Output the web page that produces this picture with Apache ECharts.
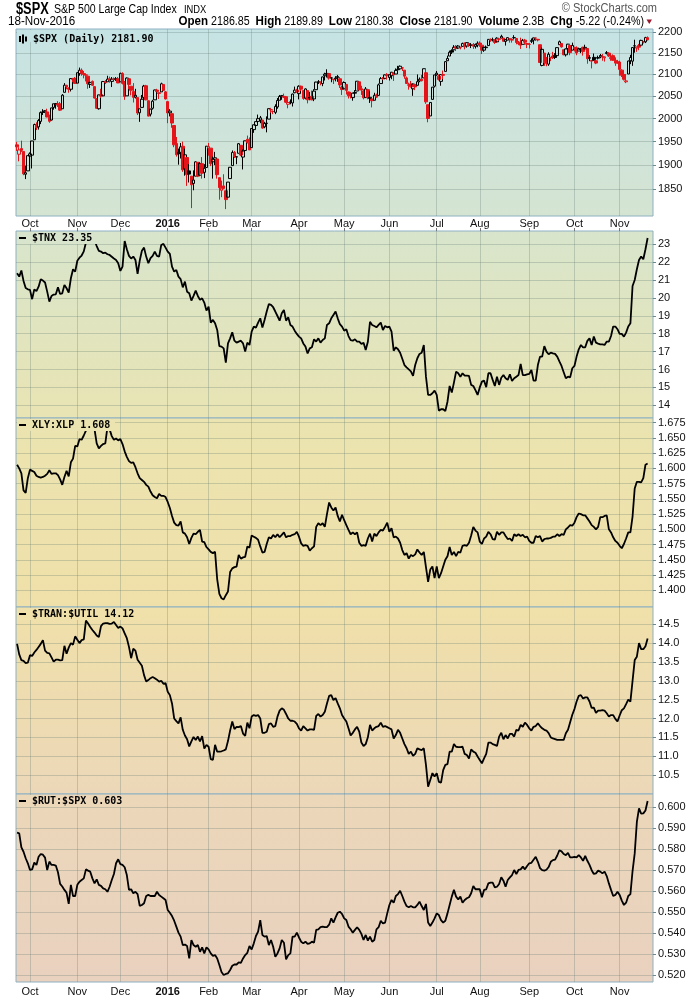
<!DOCTYPE html>
<html><head><meta charset="utf-8">
<script src="https://cdn.jsdelivr.net/npm/echarts@6/dist/echarts.min.js"></script>
<style>html,body{margin:0;padding:0;background:#fff;}#chart{width:700px;height:1000px;}</style>
</head><body><div id="chart"></div>
<script>
// ---- trading days (month -> days) ----
const monthDays = [
['2015-09',[23,24,25,28,29,30]],
['2015-10',[1,2,5,6,7,8,9,12,13,14,15,16,19,20,21,22,23,26,27,28,29,30]],
['2015-11',[2,3,4,5,6,9,10,11,12,13,16,17,18,19,20,23,24,25,27,30]],
['2015-12',[1,2,3,4,7,8,9,10,11,14,15,16,17,18,21,22,23,24,28,29,30,31]],
['2016-01',[4,5,6,7,8,11,12,13,14,15,19,20,21,22,25,26,27,28,29]],
['2016-02',[1,2,3,4,5,8,9,10,11,12,16,17,18,19,22,23,24,25,26,29]],
['2016-03',[1,2,3,4,7,8,9,10,11,14,15,16,17,18,21,22,23,24,28,29,30,31]],
['2016-04',[1,4,5,6,7,8,11,12,13,14,15,18,19,20,21,22,25,26,27,28,29]],
['2016-05',[2,3,4,5,6,9,10,11,12,13,16,17,18,19,20,23,24,25,26,27,31]],
['2016-06',[1,2,3,6,7,8,9,10,13,14,15,16,17,20,21,22,23,24,27,28,29,30]],
['2016-07',[1,5,6,7,8,11,12,13,14,15,18,19,20,21,22,25,26,27,28,29]],
['2016-08',[1,2,3,4,5,8,9,10,11,12,15,16,17,18,19,22,23,24,25,26,29,30,31]],
['2016-09',[1,2,6,7,8,9,12,13,14,15,16,19,20,21,22,23,26,27,28,29,30]],
['2016-10',[3,4,5,6,7,10,11,12,13,14,17,18,19,20,21,24,25,26,27,28,31]],
['2016-11',[1,2,3,4,7,8,9,10,11,14,15,16,17,18]]
];
const monthLabels = ['Oct','Nov','Dec','2016','Feb','Mar','Apr','May','Jun','Jul','Aug','Sep','Oct','Nov'];

// ---- $SPX daily OHLC ----
const spxOpen = [
1943,1923,1935,1929,1881,1888,
1919,1921,1954,1986,1982,1994,2014,2015,2015,2003,1997,2025,2031,2033,2033,2022,2059,2075,2069,2066,2089,2091,
2080,2102,2110,2102,2098,2096,2077,2084,2072,2045,2022,2054,2051,2084,2083,2090,2084,2089,2089,2090,
2083,2102,2082,2051,2090,2073,2061,2048,2047,2013,2025,2047,2074,2040,2010,2023,2042,2064,2058,2060,2077,2060,
2038,2013,2011,1985,1946,1927,1927,1940,1892,1916,1888,1877,1862,1877,1906,1879,1903,1885,1895,
1936,1936,1907,1912,1913,1874,1848,1857,1847,1834,1872,1899,1927,1917,1925,1942,1917,1931,1955,1947,
1937,1976,1985,1994,1997,1997,1982,1990,1999,2020,2016,2014,2026,2041,2049,2048,2049,2032,2037,2035,2058,2064,
2056,2073,2063,2046,2063,2046,2050,2044,2065,2083,2083,2079,2097,2101,2102,2092,2089,2090,2093,2090,2071,
2067,2077,2060,2052,2047,2057,2062,2083,2067,2062,2047,2065,2045,2044,2041,2053,2052,2079,2091,2091,2100,
2093,2097,2104,2101,2111,2113,2115,2110,2092,2076,2078,2067,2077,2075,2085,2089,2092,2104,2031,2006,2043,2073,
2099,2096,2084,2100,2107,2132,2143,2156,2158,2165,2162,2164,2166,2174,2167,2173,2169,2170,2166,2169,
2174,2169,2157,2163,2168,2183,2182,2182,2177,2183,2186,2186,2178,2181,2184,2181,2187,2185,2174,2176,2171,2181,2173,
2171,2178,2181,2186,2183,2170,2121,2150,2128,2124,2140,2143,2145,2144,2170,2173,2158,2146,2161,2168,2157,
2164,2163,2155,2158,2164,2160,2161,2138,2131,2140,2132,2138,2141,2142,2139,2149,2150,2137,2144,2133,2130,
2129,2110,2100,2083,2101,2132,2131,2167,2162,2168,2169,2177,2177,2187];
const spxHigh = [
1949,1938,1952,1929,1899,1920,
1927,1951,1989,1992,1999,2016,2021,2019,2022,2009,2024,2033,2034,2039,2037,2055,2080,2076,2070,2090,2092,2094,
2105,2116,2114,2108,2101,2096,2083,2086,2072,2045,2053,2067,2085,2087,2097,2095,2094,2093,2094,2094,
2104,2105,2085,2093,2090,2073,2080,2067,2047,2022,2053,2076,2076,2040,2022,2042,2065,2067,2058,2081,2077,2062,
2038,2021,2011,1985,1960,1935,1947,1950,1935,1916,1902,1877,1889,1908,1906,1906,1917,1902,1940,
1947,1936,1918,1928,1913,1874,1868,1881,1847,1865,1895,1931,1930,1918,1947,1942,1933,1952,1963,1959,
1978,1986,1993,2009,2006,1997,1993,2005,2022,2024,2018,2032,2046,2053,2053,2056,2049,2036,2043,2056,2072,2067,
2075,2074,2063,2068,2063,2060,2063,2066,2083,2087,2083,2095,2104,2112,2103,2094,2089,2096,2099,2094,2074,
2084,2077,2060,2060,2058,2064,2084,2083,2074,2066,2071,2067,2061,2044,2058,2056,2079,2094,2094,2100,2103,
2100,2105,2104,2114,2120,2121,2117,2110,2095,2081,2085,2079,2077,2100,2093,2099,2113,2113,2031,2036,2071,2099,
2108,2100,2100,2109,2131,2144,2156,2159,2169,2169,2169,2164,2175,2175,2176,2174,2174,2174,2173,2178,
2178,2170,2164,2168,2183,2185,2187,2183,2188,2186,2194,2186,2183,2188,2185,2185,2193,2186,2179,2187,2184,2184,2174,
2174,2185,2186,2187,2184,2170,2163,2150,2141,2152,2140,2153,2150,2164,2180,2173,2158,2161,2172,2172,2175,
2164,2166,2163,2162,2165,2170,2162,2145,2131,2149,2135,2144,2148,2148,2142,2155,2152,2145,2147,2140,2134,
2132,2112,2102,2100,2132,2146,2164,2182,2165,2172,2182,2179,2189,2190];
const spxLow = [
1930,1908,1928,1879,1871,1888,
1900,1893,1954,1975,1976,1988,2008,2013,2003,1991,1996,2020,2022,2026,2017,2022,2059,2066,2058,2061,2082,2079,
2080,2097,2097,2091,2084,2067,2069,2074,2045,2022,2020,2046,2051,2078,2083,2081,2071,2086,2085,2080,
2083,2077,2042,2051,2066,2052,2036,2045,2008,1993,2025,2042,2041,2005,2005,2020,2042,2059,2044,2060,2062,2043,
1990,2005,1980,1938,1918,1901,1914,1886,1878,1857,1864,1812,1848,1877,1875,1879,1872,1873,1895,
1920,1898,1872,1900,1872,1829,1834,1850,1810,1834,1872,1899,1915,1902,1925,1919,1891,1926,1946,1932,
1937,1969,1978,1987,1990,1978,1979,1970,1999,2013,2010,2010,2022,2041,2042,2046,2035,2023,2032,2027,2057,2058,
2043,2062,2042,2043,2034,2041,2041,2039,2065,2078,2075,2073,2086,2093,2088,2082,2078,2084,2083,2069,2053,
2067,2054,2045,2045,2040,2051,2062,2064,2053,2043,2047,2043,2035,2025,2041,2047,2052,2079,2087,2089,2088,
2086,2089,2085,2101,2110,2112,2108,2090,2079,2065,2070,2051,2064,2075,2082,2084,2092,2033,1992,2006,2043,2070,
2097,2086,2074,2089,2107,2132,2143,2148,2158,2155,2160,2159,2166,2159,2163,2165,2162,2160,2161,2164,
2165,2148,2153,2160,2168,2177,2178,2172,2177,2179,2186,2178,2168,2181,2175,2175,2184,2171,2169,2160,2171,2171,2162,
2161,2174,2171,2179,2178,2128,2119,2120,2119,2120,2131,2136,2136,2140,2170,2163,2145,2142,2152,2145,2157,
2154,2145,2155,2150,2144,2160,2125,2131,2114,2132,2124,2135,2138,2132,2130,2147,2141,2132,2132,2120,2125,
2097,2094,2086,2080,2101,2124,2120,2151,2153,2157,2169,2173,2174,2180];
const spxClose = [
1938.8,1932.2,1931.3,1881.8,1884.1,1920.0,
1923.8,1951.4,1987.1,1979.9,1995.8,2013.4,2014.9,2017.5,2003.7,1994.2,2023.9,2033.1,2033.7,2030.8,2018.9,2052.5,2075.2,2071.2,2065.9,2090.4,2089.4,2079.4,
2104.1,2109.8,2102.3,2099.9,2099.2,2078.6,2081.7,2075.0,2046.0,2023.0,2053.2,2050.4,2083.6,2081.2,2089.2,2086.6,2089.1,2088.9,2090.1,2080.4,
2102.6,2079.5,2049.6,2091.7,2077.1,2063.6,2047.6,2052.2,2012.4,2021.9,2043.4,2073.1,2041.9,2005.6,2021.2,2039.0,2064.3,2061.0,2056.5,2078.4,2063.4,2043.9,
2012.7,2016.7,1990.3,1943.1,1922.0,1923.7,1938.7,1890.3,1921.8,1880.3,1881.3,1859.3,1869.0,1906.9,1877.1,1903.6,1883.0,1893.4,1940.2,
1939.4,1903.0,1912.5,1915.5,1880.1,1853.4,1852.2,1851.9,1829.1,1864.8,1895.6,1926.8,1917.8,1917.8,1945.5,1921.3,1929.8,1951.7,1948.1,1932.2,
1978.4,1986.5,1993.4,2000.0,2001.8,1979.3,1989.3,1989.6,2022.2,2019.6,2015.9,2027.2,2040.6,2049.6,2051.6,2049.8,2036.7,2035.9,2037.1,2055.0,2064.0,2059.7,
2072.8,2066.1,2045.2,2066.7,2041.9,2047.6,2042.0,2061.7,2082.4,2082.8,2080.7,2094.3,2100.8,2102.4,2091.5,2091.6,2087.8,2091.7,2095.2,2075.8,2065.3,
2081.4,2063.4,2051.1,2050.6,2057.1,2058.7,2084.4,2064.5,2064.1,2046.6,2066.7,2047.2,2047.6,2040.0,2052.3,2048.0,2076.1,2090.5,2090.1,2099.1,2097.0,
2099.3,2105.3,2099.1,2109.4,2112.1,2119.1,2115.5,2096.1,2079.1,2075.3,2071.5,2078.0,2071.2,2083.3,2088.9,2085.5,2113.3,2037.4,2000.5,2036.1,2070.8,2098.9,
2103.0,2088.6,2099.7,2097.9,2129.9,2137.2,2152.1,2152.4,2163.8,2161.7,2166.9,2163.8,2173.0,2165.2,2175.0,2168.5,2169.2,2166.6,2170.1,2173.6,
2170.8,2157.0,2163.8,2164.3,2182.9,2180.9,2181.7,2175.5,2185.8,2184.1,2190.2,2178.2,2182.2,2187.0,2183.9,2182.6,2186.9,2175.4,2172.5,2169.0,2180.4,2176.1,2171.0,
2170.9,2180.0,2186.5,2186.2,2181.3,2127.8,2159.0,2127.0,2125.8,2147.3,2139.2,2139.1,2139.8,2163.1,2177.2,2164.7,2146.1,2159.9,2171.4,2151.1,2168.3,
2161.2,2150.5,2159.7,2160.8,2153.7,2163.7,2136.7,2139.2,2132.6,2133.0,2126.5,2139.6,2144.3,2141.3,2141.2,2151.3,2143.2,2139.4,2133.0,2126.4,2126.2,
2111.7,2097.9,2088.7,2085.2,2131.5,2139.6,2163.3,2167.5,2164.5,2164.2,2180.4,2176.9,2187.1,2181.9];

// ---- lower panels ----
const tnx = [
21.38,21.19,21.53,20.95,20.55,20.48,20.45,19.93,20.48,20.38,
20.63,21.04,20.97,20.86,20.35,19.79,20.11,20.19,20.2,20.59,
20.22,20.26,20.73,20.54,20.3,21.1,21.6,21.47,22.08,22.25,
22.37,22.6,23.1,23.35,23.3,23.4,23.2,22.9,22.63,22.59,
22.5,22.53,22.44,22.4,22.3,22.2,22.12,21.94,21.51,21.75,
23.18,22.72,22.35,22.2,22.31,22.12,21.34,22.09,22.64,22.81,
22.31,21.94,22.22,22.35,22.59,22.35,22.31,22.96,23.02,22.81,
22.59,22.46,21.75,21.47,21.56,21.19,21.05,20.59,20.91,20.35,
20.26,19.85,20.11,20.41,20.11,19.89,19.98,19.74,19.29,19.51,
18.62,18.77,18.58,18.21,17.31,17.28,17.18,16.38,17.46,17.74,
18.08,17.61,17.5,17.56,17.61,17.46,17.0,17.5,17.37,18.12,
18.4,18.34,18.62,18.86,18.34,18.77,19.24,19.66,19.61,19.48,
19.24,18.99,18.73,19.14,19.33,18.73,18.92,18.49,18.4,18.17,
17.99,17.84,17.74,17.46,17.28,16.9,17.18,17.24,17.69,17.56,
17.74,17.5,17.65,17.74,18.49,18.58,18.86,19.05,19.24,18.86,
18.53,18.4,18.17,18.25,17.87,17.64,17.61,17.69,17.56,17.56,
17.43,17.5,17.09,17.55,18.67,18.49,18.43,18.36,18.49,18.62,
18.21,18.43,18.36,18.4,18.12,17.05,17.24,17.13,16.94,16.6,
16.25,16.12,16.01,15.9,15.64,16.25,16.63,16.87,16.94,17.37,
15.6,14.58,14.58,14.67,14.82,14.58,13.7,13.78,13.78,13.68,
14.2,15.08,14.71,15.27,15.88,15.79,15.6,15.79,15.66,15.66,
15.64,15.14,15.08,14.85,14.58,15.0,15.32,15.38,15.01,15.79,
15.79,15.42,15.08,15.6,15.14,15.54,15.69,15.51,15.42,15.73,
15.36,15.51,15.6,15.69,16.31,15.69,15.69,15.73,15.75,15.97,
15.38,15.38,16.25,16.72,16.72,17.31,17.0,16.85,16.94,16.9,
16.87,16.72,16.45,16.2,15.85,15.51,15.6,15.56,16.07,16.2,
16.72,17.13,17.37,17.24,17.24,17.6,17.74,17.37,17.84,17.5,
17.45,17.41,17.4,17.37,17.56,17.56,17.87,18.4,18.4,18.25,
17.99,17.99,17.84,18.06,18.4,18.58,20.67,21.0,21.6,22.12,
22.31,22.16,22.72,23.35];
const xlyXlp = [
1.606,1.600,1.592,1.564,1.560,1.584,1.598,1.596,1.594,1.588,
1.586,1.585,1.586,1.588,1.591,1.597,1.591,1.592,1.592,1.589,
1.582,1.573,1.586,1.596,1.587,1.610,1.616,1.637,1.636,1.648,
1.647,1.654,1.662,1.668,1.670,1.666,1.664,1.641,1.633,1.637,
1.640,1.641,1.668,1.664,1.653,1.647,1.649,1.646,1.648,1.640,
1.628,1.619,1.612,1.609,1.610,1.602,1.592,1.584,1.581,1.578,
1.573,1.570,1.562,1.556,1.553,1.551,1.558,1.555,1.555,1.553,
1.545,1.535,1.522,1.511,1.507,1.506,1.513,1.495,1.493,1.487,
1.476,1.486,1.493,1.492,1.496,1.499,1.480,1.479,1.471,1.467,
1.463,1.461,1.463,1.418,1.394,1.387,1.385,1.392,1.398,1.430,
1.436,1.438,1.439,1.458,1.452,1.454,1.455,1.472,1.470,1.490,
1.488,1.486,1.483,1.472,1.462,1.463,1.476,1.487,1.485,1.491,
1.487,1.492,1.487,1.491,1.495,1.487,1.489,1.489,1.491,1.492,
1.496,1.488,1.477,1.473,1.474,1.473,1.465,1.469,1.472,1.504,
1.510,1.507,1.510,1.504,1.525,1.544,1.536,1.531,1.536,1.522,
1.513,1.524,1.515,1.507,1.499,1.492,1.495,1.492,1.495,1.478,
1.473,1.474,1.473,1.485,1.493,1.480,1.493,1.489,1.495,1.499,
1.498,1.504,1.511,1.496,1.502,1.487,1.488,1.485,1.478,1.466,
1.458,1.461,1.452,1.458,1.456,1.459,1.467,1.462,1.458,1.463,
1.438,1.414,1.434,1.439,1.420,1.439,1.420,1.428,1.439,1.450,
1.456,1.471,1.458,1.463,1.456,1.463,1.462,1.473,1.474,1.473,
1.478,1.490,1.504,1.498,1.495,1.480,1.476,1.485,1.488,1.496,
1.492,1.484,1.483,1.496,1.491,1.495,1.495,1.489,1.484,1.485,
1.481,1.492,1.489,1.492,1.489,1.491,1.487,1.488,1.481,1.478,
1.478,1.489,1.487,1.489,1.480,1.484,1.485,1.485,1.486,1.488,
1.488,1.492,1.489,1.492,1.491,1.500,1.503,1.507,1.506,1.511,
1.520,1.526,1.525,1.523,1.523,1.518,1.513,1.507,1.504,1.500,
1.504,1.520,1.520,1.522,1.523,1.500,1.495,1.487,1.481,1.478,
1.473,1.469,1.476,1.485,1.495,1.495,1.521,1.567,1.578,1.578,
1.577,1.584,1.606,1.608];
const tranUtil = [
13.98,13.70,13.55,13.53,13.47,13.48,13.68,13.66,13.75,13.82,
13.90,13.98,14.08,13.80,13.74,13.73,13.62,13.51,13.56,13.56,
13.54,13.55,13.93,13.72,13.88,14.00,13.96,14.18,14.09,14.00,
14.08,14.10,14.60,14.52,14.43,14.35,14.28,14.20,14.16,14.45,
14.52,14.53,14.53,14.51,14.52,14.56,14.48,14.40,14.44,14.39,
14.26,14.13,13.90,13.60,13.85,13.80,13.56,13.48,13.40,13.15,
12.98,13.02,13.07,13.10,13.07,13.03,12.98,13.00,12.92,12.94,
12.71,12.62,12.40,12.00,11.93,11.87,12.03,11.70,11.55,11.45,
11.26,11.39,11.51,11.43,11.52,11.39,11.53,11.20,11.30,11.25,
10.92,10.90,11.30,11.12,11.12,11.13,11.15,11.18,11.40,11.68,
11.92,11.72,11.78,11.77,11.80,11.60,11.54,11.89,11.74,12.05,
12.09,12.07,12.09,12.00,11.62,11.62,11.65,11.85,11.87,11.78,
11.80,12.05,12.21,12.27,12.23,12.12,12.00,11.94,11.94,11.92,
11.86,11.74,11.68,11.80,11.74,11.68,11.71,11.71,11.70,12.07,
12.12,12.05,12.09,12.18,12.40,12.60,12.62,12.49,12.54,12.40,
12.27,12.09,12.00,11.92,11.74,11.55,11.62,11.71,11.78,11.65,
11.36,11.27,11.32,11.50,11.83,11.68,11.74,11.78,11.80,11.89,
11.78,11.80,11.77,11.74,11.71,11.47,11.56,11.70,11.62,11.47,
11.32,11.21,11.06,11.12,11.01,11.06,11.21,11.18,11.16,11.21,
10.77,10.19,10.37,10.55,10.46,10.55,10.32,10.30,10.63,10.77,
10.79,11.12,11.12,11.32,11.25,11.24,11.24,11.25,11.06,11.03,
10.94,11.18,11.12,11.09,10.99,10.90,10.81,10.94,11.06,11.36,
11.36,11.32,11.30,11.27,11.52,11.62,11.45,11.56,11.47,11.59,
11.59,11.52,11.70,11.68,11.83,11.78,11.89,11.83,11.74,11.68,
11.78,11.80,11.87,11.80,11.74,11.70,11.68,11.61,11.50,11.47,
11.45,11.43,11.43,11.43,11.43,11.61,11.70,11.90,12.10,12.25,
12.45,12.60,12.62,12.53,12.56,12.56,12.45,12.28,12.29,12.15,
12.21,12.21,12.22,12.21,12.14,12.05,12.09,12.09,11.99,11.92,
12.08,12.22,12.27,12.38,12.50,12.45,13.00,13.55,13.64,14.00,
13.84,13.84,13.92,14.12];
const rutSpx = [
0.5879,0.5876,0.5809,0.5788,0.5757,0.5733,0.5701,0.5704,0.5736,0.5725,
0.5764,0.5777,0.5774,0.5760,0.5701,0.5741,0.5725,0.5725,0.5722,0.5690,
0.5635,0.5622,0.5606,0.5592,0.5539,0.5630,0.5577,0.5577,0.5630,0.5645,
0.5653,0.5661,0.5704,0.5698,0.5693,0.5661,0.5637,0.5656,0.5630,0.5625,
0.5613,0.5609,0.5597,0.5621,0.5653,0.5682,0.5733,0.5752,0.5729,0.5725,
0.5714,0.5677,0.5606,0.5609,0.5590,0.5597,0.5586,0.5530,0.5534,0.5542,
0.5577,0.5582,0.5577,0.5577,0.5577,0.5597,0.5582,0.5574,0.5566,0.5558,
0.5510,0.5497,0.5481,0.5459,0.5431,0.5402,0.5383,0.5343,0.5345,0.5338,
0.5279,0.5367,0.5343,0.5335,0.5343,0.5311,0.5332,0.5303,0.5332,0.5322,
0.5303,0.5291,0.5295,0.5279,0.5248,0.5214,0.5200,0.5205,0.5208,0.5224,
0.5244,0.5250,0.5250,0.5260,0.5258,0.5279,0.5295,0.5306,0.5338,0.5322,
0.5351,0.5386,0.5407,0.5462,0.5391,0.5383,0.5386,0.5343,0.5367,0.5335,
0.5287,0.5303,0.5327,0.5367,0.5354,0.5275,0.5295,0.5303,0.5383,0.5383,
0.5402,0.5379,0.5359,0.5351,0.5359,0.5348,0.5351,0.5359,0.5354,0.5415,
0.5418,0.5428,0.5431,0.5428,0.5428,0.5440,0.5470,0.5450,0.5475,0.5497,
0.5502,0.5491,0.5470,0.5462,0.5431,0.5418,0.5402,0.5415,0.5428,0.5415,
0.5396,0.5367,0.5391,0.5364,0.5383,0.5359,0.5367,0.5418,0.5428,0.5459,
0.5446,0.5450,0.5494,0.5534,0.5558,0.5545,0.5577,0.5586,0.5602,0.5577,
0.5550,0.5529,0.5523,0.5529,0.5523,0.5523,0.5534,0.5550,0.5529,0.5510,
0.5539,0.5450,0.5434,0.5450,0.5470,0.5494,0.5486,0.5462,0.5450,0.5459,
0.5494,0.5534,0.5574,0.5606,0.5574,0.5561,0.5574,0.5545,0.5558,0.5566,
0.5571,0.5590,0.5625,0.5609,0.5609,0.5609,0.5571,0.5606,0.5609,0.5637,
0.5641,0.5641,0.5618,0.5621,0.5634,0.5666,0.5650,0.5621,0.5653,0.5666,
0.5677,0.5701,0.5682,0.5701,0.5704,0.5717,0.5704,0.5720,0.5733,0.5735,
0.5750,0.5764,0.5740,0.5710,0.5700,0.5698,0.5702,0.5715,0.5740,0.5748,
0.5750,0.5770,0.5795,0.5790,0.5777,0.5772,0.5783,0.5761,0.5761,0.5764,
0.5761,0.5772,0.5761,0.5745,0.5768,0.5745,0.5725,0.5700,0.5682,0.5685,
0.5698,0.5693,0.5685,0.5693,0.5672,0.5637,0.5606,0.5577,0.5582,0.5597,
0.5582,0.5555,0.5534,0.5545,0.5577,0.5586,0.5696,0.5780,0.5930,0.5995,
0.5970,0.5971,0.5985,0.6030];

// ---- tick labels ----
const spxTicks = [1850,1900,1950,2000,2050,2100,2150,2200];
const tnxTicks = [14,15,16,17,18,19,20,21,22,23];
const xlyTicks = [1.400,1.425,1.450,1.475,1.500,1.525,1.550,1.575,1.600,1.625,1.650,1.675];
const tranTicks = [10.5,11.0,11.5,12.0,12.5,13.0,13.5,14.0,14.5];
const rutTicks = [0.520,0.530,0.540,0.550,0.560,0.570,0.580,0.590,0.600];

// ---- build categories ----
const categories = [];
const monthStart = {};
monthDays.forEach(function (m, mi) {
  m[1].forEach(function (d, di) {
    if (di === 0 && mi > 0) monthStart[categories.length] = monthLabels[mi - 1];
    categories.push(m[0] + '-' + (d < 10 ? '0' + d : '' + d));
  });
});
categories.push('', '');

const FONT_AX = "'Liberation Sans', Arial, sans-serif";
const FONT_LEG = "'DejaVu Sans Mono', monospace";
const FONT_HDR = "'Liberation Sans', Arial, sans-serif";
const GRIDLINE = 'rgba(95,120,110,0.28)';
const BORDER = '#8db0c2';
const RED = '#e4141b';

const panels = [
  {top: 29, height: 187, c0: '#c6e3e4', c1: '#d5e4d2', legW: 136},
  {top: 231, height: 187, c0: '#d8e5cc', c1: '#e9e4b3', legW: 80},
  {top: 418, height: 189, c0: '#ebe4b0', c1: '#f0e0a9', legW: 98},
  {top: 607, height: 187, c0: '#f0e0a9', c1: '#ecd8b8', legW: 124},
  {top: 794, height: 188, c0: '#ecd7b9', c1: '#e9d1bf', legW: 112}
];

const isMonth = function (i) { return monthStart[i] !== undefined; };

const grids = panels.map(function (p) {
  return {left: 16, width: 637, top: p.top, height: p.height, show: true,
    borderColor: BORDER, borderWidth: 1,
    backgroundColor: new echarts.graphic.LinearGradient(0, 0, 0, 1, [{offset: 0, color: p.c0}, {offset: 1, color: p.c1}])};
});

const xAxes = panels.map(function (p, g) {
  return {type: 'category', gridIndex: g, data: categories, boundaryGap: true,
    position: g === 1 ? 'top' : 'bottom',
    axisLine: {show: false},
    axisTick: {show: g === 1, interval: isMonth, alignWithLabel: true, length: 3, lineStyle: {color: '#777'}},
    axisLabel: {show: g === 0 || g === 4, interval: isMonth, margin: g === 0 ? 2 : 4,
      fontFamily: FONT_AX, fontSize: 11, color: '#111',
      formatter: function (v, i) { const s = monthStart[i] || ''; return s === '2016' ? '{b|2016}' : s; },
      rich: {b: {fontWeight: 'bold', fontSize: 11, fontFamily: FONT_AX, color: '#111'}}},
    splitLine: {show: true, interval: isMonth, alignWithLabel: true, lineStyle: {color: GRIDLINE, width: 1}}
  };
});

function yAx(g, type, min, max, ticks, fmt) {
  return {type: type, gridIndex: g, position: 'right', min: min, max: max, logBase: 10,
    axisLine: {show: false},
    axisTick: {show: true, length: 3, customValues: ticks, lineStyle: {color: '#6a8a98'}},
    axisLabel: {customValues: ticks, margin: 5, fontFamily: FONT_AX, fontSize: 11, color: '#111', formatter: fmt},
    splitLine: {show: true, lineStyle: {color: GRIDLINE, width: 1}},
    minorTick: {show: false}, minorSplitLine: {show: false}};
}
const yAxes = [
  yAx(0, 'log', 1796.3, 2208, spxTicks, function (v) { return Math.round(v).toString(); }),
  yAx(1, 'value', 13.29, 23.74, tnxTicks, function (v) { return Math.round(v).toString(); }),
  yAx(2, 'value', 1.3726, 1.6827, xlyTicks, function (v) { return v.toFixed(3); }),
  yAx(3, 'value', 9.996, 14.959, tranTicks, function (v) { return v.toFixed(1); }),
  yAx(4, 'value', 0.51666, 0.60635, rutTicks, function (v) { return v.toFixed(3); })
];

const candleData = spxClose.map(function (c, i) {
  const o = spxOpen[i];
  const prev = i > 0 ? spxClose[i - 1] : o;
  const col = c >= prev ? '#000000' : RED;
  const fill = c > o ? 'rgba(0,0,0,0)' : col;
  return {value: [o, c, spxLow[i], spxHigh[i]],
    itemStyle: {color: fill, color0: fill, borderColor: col, borderColor0: col, borderWidth: 1}};
});

function lineSeries(g, data) {
  return {type: 'line', xAxisIndex: g, yAxisIndex: g, data: data, showSymbol: false, symbol: 'none',
    lineStyle: {color: '#000', width: 1.8}, clip: true, silent: true, z: 3};
}

function legendTitle(p, text, rich) {
  return {left: 19, top: p.top + 1, padding: 0, text: text, textStyle: {rich: rich}, z: 10};
}
const legText = {fontFamily: FONT_LEG, fontSize: 10, color: '#000', lineHeight: 12};
const dashRich = {d: {width: 7, height: 2, backgroundColor: '#000'}, t: legText};

// legend backing boxes (hide the line under the label, like the original)
const legendBoxes = panels.map(function (p) {
  return {type: 'rect', z: 8, silent: true, shape: {x: 17, y: p.top + 1, width: p.legW, height: 12}, style: {fill: p.c0}};
});

const option = {
  animation: false,
  backgroundColor: '#ffffff',
  grid: grids,
  xAxis: xAxes,
  yAxis: yAxes,
  title: [
    legendTitle(panels[0], '{a|}{g|}{b|}{g|}{c|}{t| $SPX (Daily) 2181.90}',
      {a: {width: 2, height: 6, backgroundColor: '#000'}, b: {width: 2, height: 9, backgroundColor: '#000'},
       c: {width: 2, height: 5, backgroundColor: '#000'}, g: {width: 1}, t: legText}),
    legendTitle(panels[1], '{d|}{t| $TNX 23.35}', dashRich),
    legendTitle(panels[2], '{d|}{t| XLY:XLP 1.608}', dashRich),
    legendTitle(panels[3], '{d|}{t| $TRAN:$UTIL 14.12}', dashRich),
    legendTitle(panels[4], '{d|}{t| $RUT:$SPX 0.603}', dashRich)
  ],
  series: [
    {type: 'candlestick', xAxisIndex: 0, yAxisIndex: 0, data: candleData, barWidth: 3, silent: true, z: 3},
    lineSeries(1, tnx),
    lineSeries(2, xlyXlp),
    lineSeries(3, tranUtil),
    lineSeries(4, rutSpx)
  ],
  graphic: legendBoxes.concat([
    {type: 'text', x: 16, y: 9.5, scaleX: 0.8, style: {text: '$SPX', font: 'bold 16px ' + FONT_HDR, fill: '#000', verticalAlign: 'middle'}},
    {type: 'text', x: 54, y: 10, scaleX: 0.88, style: {text: 'S&P 500 Large Cap Index', font: '12px ' + FONT_HDR, fill: '#000', verticalAlign: 'middle'}},
    {type: 'text', x: 184, y: 10, scaleX: 0.85, style: {text: 'INDX', font: '11px ' + FONT_HDR, fill: '#000', verticalAlign: 'middle'}},
    {type: 'text', x: 657, y: 9, scaleX: 0.92, style: {text: '\u00a9 StockCharts.com', font: '12px ' + FONT_HDR, fill: '#555', align: 'right', verticalAlign: 'middle'}},
    {type: 'text', x: 8, y: 21.5, scaleX: 0.97, style: {text: '18-Nov-2016', font: '12px ' + FONT_HDR, fill: '#000', verticalAlign: 'middle'}},
    {type: 'text', x: 644, y: 21.5, scaleX: 0.89, style: {
      text: '{b|Open} 2186.85  {b|High} 2189.89  {b|Low} 2180.38  {b|Close} 2181.90  {b|Volume} 2.3B  {b|Chg} -5.22 (-0.24%)',
      font: '12px ' + FONT_HDR, fill: '#000', align: 'right', verticalAlign: 'middle',
      rich: {b: {fontWeight: 'bold', fontSize: 13, fontFamily: FONT_HDR, fill: '#000'}}}},
    {type: 'polygon', shape: {points: [[646.5, 19.5], [652, 19.5], [649.25, 24]]}, style: {fill: '#9a1a32'}}
  ])
};

const chart = echarts.init(document.getElementById('chart'), null, {renderer: 'canvas', width: 700, height: 1000});
chart.setOption(option);
</script>
</body></html>
